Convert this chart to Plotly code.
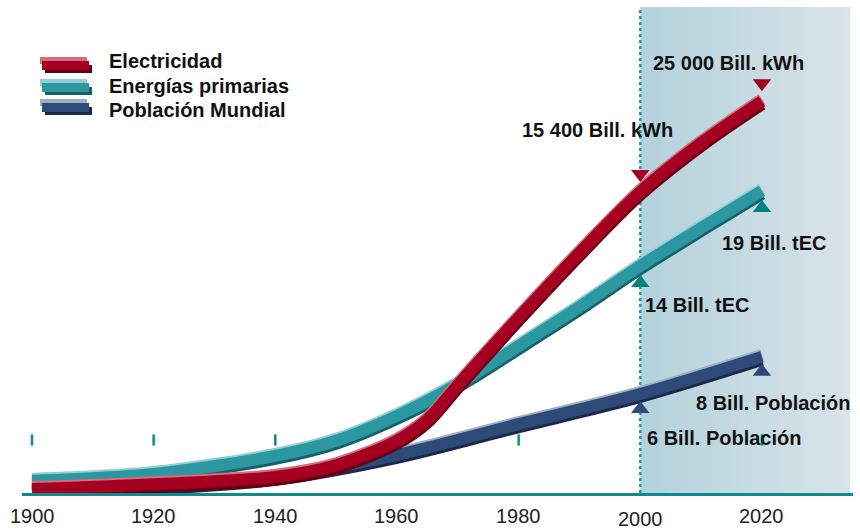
import plotly.graph_objects as go

# Años del eje
anios = [1900, 1920, 1940, 1960, 1980, 2000, 2020]

# Curvas (índice relativo)
anios_elec = [1900, 1920, 1940, 1950, 1960, 1965, 1970, 1980, 1990, 2000, 2010, 2020]
electricidad = [0.8, 1.8, 3.3, 5.7, 10.7, 15.0, 22.1, 35.9, 49.2, 61.7, 71.7, 80.3]

anios_energia = [1900, 1920, 1940, 1950, 1960, 1970, 1980, 1990, 2000, 2010, 2020]
energia = [2.5, 3.9, 7.6, 10.7, 15.8, 22.3, 30.1, 38.1, 46.5, 54.3, 61.9]

anios_pobl = [1900, 1920, 1940, 1960, 1980, 2000, 2020]
poblacion = [0.4, 1.4, 3.3, 7.8, 14.1, 20.3, 27.9]

series_nombres = ["Electricidad", "Energías primarias", "Población Mundial"]

# Etiquetas de valores en 2000 y 2020
etiq_elec = ["15 400 Bill. kWh", "25 000 Bill. kWh"]
etiq_energia = ["14 Bill. tEC", "19 Bill. tEC"]
etiq_pobl = ["6 Bill. Población", "8 Bill. Población"]

FONT = "Liberation Sans, Arial, sans-serif"
PX_Y = 1 / 4.88  # unidades de y por pixel


def year_at(px):
    return 1900 + (px - 32) / 6.083


def val_at(py):
    return (493 - py) / 4.88


def paper_x(px):
    return (px - 22) / 831


def paper_y(py):
    return (493 - py) / 488


estilos = {
    "Electricidad": dict(main="#a50021", light="#d86b7d", dark="#620014"),
    "Energías primarias": dict(main="#2a97a1", light="#8fcfd4", dark="#17606a"),
    "Población Mundial": dict(main="#2e4a78", light="#a0abc4", dark="#1a2a48"),
}

fig = go.Figure()

# zona de previsión con degradado
fig.add_trace(go.Scatter(
    x=[2000, 2034.5, 2034.5, 2000, 2000],
    y=[0, 0, 99.6, 99.6, 0],
    mode="lines", fill="toself",
    fillgradient=dict(type="horizontal",
                      colorscale=[[0, "#b3d2dc"], [1, "#d9e3e9"]]),
    line=dict(width=0), hoverinfo="skip", showlegend=False,
))

# línea punteada del año 2000
fig.add_trace(go.Scatter(
    x=[2000, 2000], y=[0, 99.6], mode="lines",
    line=dict(color="#1a9e9e", width=2.5, dash="dot"),
    hoverinfo="skip", showlegend=False,
))

# pequeñas marcas verdes
fig.add_trace(go.Scatter(
    x=[a for a in anios if a != 2000], y=[val_at(440)] * (len(anios) - 1),
    mode="markers",
    marker=dict(symbol="line-ns", size=8, line=dict(width=2.5, color="#0e8a8a")),
    hoverinfo="skip", showlegend=False,
))

# cintas (sombra, brillo, cuerpo)
datos = [
    ("Población Mundial", anios_pobl, poblacion),
    ("Energías primarias", anios_energia, energia),
    ("Electricidad", anios_elec, electricidad),
]
for nombre, xs, ys in datos:
    st = estilos[nombre]
    for color, off in [(st["dark"], -3), (st["light"], 2), (st["main"], 0)]:
        fig.add_trace(go.Scatter(
            x=xs, y=[v + off * PX_Y for v in ys], mode="lines",
            line=dict(color=color, width=12, shape="spline", smoothing=0.9),
            hoverinfo="skip", showlegend=False,
        ))

# triángulos en 2000 y 2020
marcas = [
    ("Electricidad", electricidad, anios_elec, "triangle-down", 18),
    ("Energías primarias", energia, anios_energia, "triangle-up", -17),
    ("Población Mundial", poblacion, anios_pobl, "triangle-up", -15),
]
for nombre, ys, xs, simbolo, off in marcas:
    pts = [ys[xs.index(a)] + off * PX_Y for a in (2000, 2020)]
    color = {"Electricidad": "#a50021", "Energías primarias": "#00827f",
             "Población Mundial": "#2e4a78"}[nombre]
    fig.add_trace(go.Scatter(
        x=[2000, 2020], y=pts, mode="markers",
        marker=dict(symbol=simbolo, size=16, color=color, line=dict(width=0)),
        hoverinfo="skip", showlegend=False,
    ))

anots = []
# textos de valores
textos = [
    (etiq_elec[1], 651, 63), (etiq_elec[0], 520, 130),
    (etiq_energia[1], 720, 243), (etiq_energia[0], 643, 305),
    (etiq_pobl[1], 694, 403), (etiq_pobl[0], 645, 438),
]
for txt, px, py in textos:
    anots.append(dict(x=year_at(px), y=val_at(py), text="<b>%s</b>" % txt,
                      showarrow=False, xanchor="left", yanchor="middle",
                      font=dict(family=FONT, size=20, color="#111111")))

# etiquetas del eje x
for a in anios:
    anots.append(dict(x=a, y=0, yref="y", text=str(a), showarrow=False,
                      xanchor="center", yanchor="middle",
                      yshift=-26 if a == 2000 else -23,
                      font=dict(family=FONT, size=20, color="#222222")))

# leyenda
shapes = []
filas = [66, 88, 108]
for nombre, c, ty in zip(series_nombres, filas, [61, 86, 110]):
    st = estilos[nombre]
    for color, x0, x1, y0, y1 in [
        (st["dark"], 45, 92, c - 1, c + 7),
        (st["light"], 40, 87, c - 9, c - 2),
        (st["main"], 42, 89, c - 5, c + 4),
    ]:
        shapes.append(dict(type="rect", xref="paper", yref="paper",
                           x0=paper_x(x0), x1=paper_x(x1),
                           y0=paper_y(y1), y1=paper_y(y0),
                           fillcolor=color, line=dict(width=0), layer="above"))
    anots.append(dict(xref="paper", yref="paper", x=paper_x(107), y=paper_y(ty),
                      text="<b>%s</b>" % nombre, showarrow=False,
                      xanchor="left", yanchor="middle",
                      font=dict(family=FONT, size=20, color="#111111")))

fig.update_layout(
    width=860, height=530,
    margin=dict(l=22, r=7, t=5, b=37),
    paper_bgcolor="white", plot_bgcolor="white",
    showlegend=False,
    annotations=anots,
    shapes=shapes,
    xaxis=dict(range=[year_at(22), year_at(853)], showgrid=False, zeroline=False,
               showticklabels=False, ticks="", showline=True,
               linecolor="#0e8a8a", linewidth=3, fixedrange=True),
    yaxis=dict(range=[0, 100], showgrid=False, zeroline=False,
               showticklabels=False, ticks="", showline=False, fixedrange=True),
)

# sin margen del body para que la figura ocupe la ventana exacta
fig.write_html("out.html", config={"displayModeBar": False},
               post_script="document.body.style.margin='0';")
